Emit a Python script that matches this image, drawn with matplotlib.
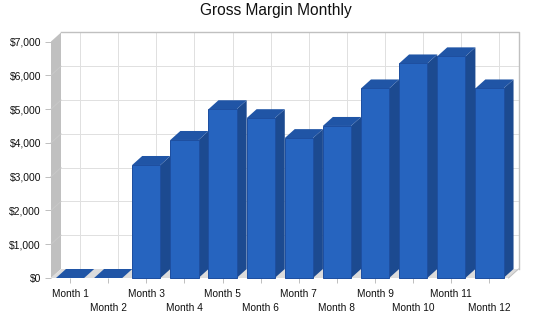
import matplotlib
matplotlib.use("Agg")
import matplotlib.pyplot as plt
from matplotlib.patches import Polygon
import numpy as np

months = [f"Month {i}" for i in range(1, 13)]
gross_margin = [0, 0, 3345, 4085, 4995, 4730, 4140, 4500, 5610, 6350, 6560, 5610]
y_ticks = [0, 1000, 2000, 3000, 4000, 5000, 6000, 7000]

plt.rcParams["font.family"] = ["Liberation Sans", "DejaVu Sans"]

W, H = 550, 318
LEFT, RIGHT, TOP, BOTTOM = 51, 508.5, 41.5, 278
PX = 0.72  # one pixel in points

fig = plt.figure(figsize=(W / 100, H / 100), dpi=100)
ax = fig.add_axes([LEFT / W, 1 - BOTTOM / H, (RIGHT - LEFT) / W, (BOTTOM - TOP) / H])
ax.set_xlim(-0.5, 11.5)
ax.set_ylim(0, 7000)

# 3d depth, in data units
cat_w = (RIGHT - LEFT) / 12
dx = 10 / cat_w
dy = 9 / (BOTTOM - TOP) * 7000
half = 14.1 / cat_w


def poly(points, color, z, edge="none", lw=0):
    ax.add_patch(Polygon(points, closed=True, facecolor=color, edgecolor=edge,
                         linewidth=lw, zorder=z, clip_on=False))


# back wall, left wall, floor
x0, x1 = -0.5, 11.5
poly([(x0 + dx, dy), (x1 + dx, dy), (x1 + dx, 7000 + dy), (x0 + dx, 7000 + dy)], "white", 1)
grid = "#e0e0e0"
for t in y_ticks[1:-1]:
    ax.plot([x0 + dx, x1 + dx], [t + dy, t + dy], color=grid, lw=PX, zorder=2, clip_on=False)
for i in range(len(months)):
    ax.plot([i + dx, i + dx], [dy, 7000 + dy], color=grid, lw=PX, zorder=2, clip_on=False)
poly([(x0, 0), (x0 + dx, dy), (x0 + dx, 7000 + dy), (x0, 7000)], "#c0c0c0", 3)
for t in y_ticks[1:-1]:
    ax.plot([x0, x0 + dx], [t, t + dy], color="#c8c8c8", lw=PX, zorder=3.5, clip_on=False)
poly([(x0, 0), (x1, 0), (x1 + dx, dy), (x0 + dx, dy)], "#dcdcdc", 3)
ax.plot([x0 + dx, x1 + dx, x1 + dx], [7000 + dy, 7000 + dy, dy], color="#c0c0c0", lw=1.4 * PX,
        zorder=3, clip_on=False)
ax.plot([x1, x1 + dx], [0, dy], color="#c0c0c0", lw=PX, zorder=3, clip_on=False)

# bars
for i, v in enumerate(gross_margin):
    a, b = i - half, i + half
    z = 5 + i * 0.1
    poly([(b, 0), (b + dx, dy), (b + dx, v + dy), (b, v)], "#1c4a90", z)
    poly([(a, v), (b, v), (b + dx, v + dy), (a + dx, v + dy)], "#2055a6", z)
    if v > 0:
        poly([(a, 0), (b, 0), (b, v), (a, v)], "#2664bf", z + 0.01, edge="#1e4fa0", lw=PX)

for s in ax.spines.values():
    s.set_visible(False)
ax.patch.set_visible(False)

ax.set_yticks(y_ticks)
ax.set_yticklabels([f"${t:,}" for t in y_ticks], fontsize=7.5, color="#111111")
ax.set_xticks(range(len(months)))
ax.set_xticklabels(months, fontsize=7.3, color="#111111")
ax.tick_params(axis="both", color="#c0c0c0", width=PX)
ax.tick_params(axis="y", length=6 * PX, pad=4 * PX)
ax.tick_params(axis="x", length=5 * PX)
for i, tick in enumerate(ax.xaxis.get_major_ticks()):
    tick.set_pad(4.4 if i % 2 == 0 else 14.4)

fig.text(275.5 / W, 1 - 11 / H, "Gross Margin Monthly", ha="center", va="center",
         fontsize=11.2, color="#111111")

fig.savefig("out.png", dpi=100)
plt.close(fig)
